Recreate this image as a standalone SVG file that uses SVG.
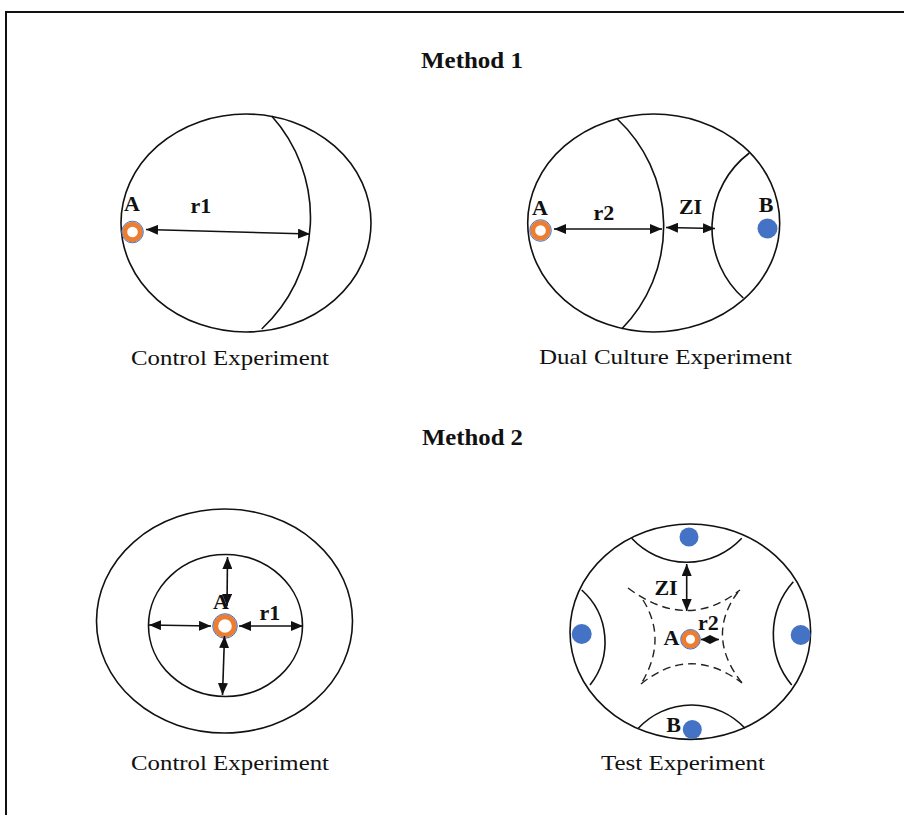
<svg xmlns="http://www.w3.org/2000/svg" width="904" height="815" viewBox="0 0 904 815">
<style>
.plate{fill:none;stroke:#111;stroke-width:1.6}
.arc{fill:none;stroke:#111;stroke-width:1.6}
.dash{fill:none;stroke:#222;stroke-width:1.4;stroke-dasharray:8 5}
.arrow{fill:none;stroke:#111;stroke-width:1.6;marker-start:url(#ah);marker-end:url(#ah)}
.arrowS{fill:none;stroke:#111;stroke-width:1.6;marker-start:url(#ahs);marker-end:url(#ahs)}
.lbl{font-family:"Liberation Serif","Times New Roman",serif;font-weight:bold;font-size:22px;fill:#111;text-anchor:middle}
.title{font-family:"Liberation Serif","Times New Roman",serif;font-weight:bold;font-size:24px;fill:#111}
.cap{font-family:"Liberation Serif","Times New Roman",serif;font-size:22px;fill:#111}
.ringO{fill:#fff;stroke:#ED7D31;stroke-width:5}
.ringB{fill:none;stroke:#4472C4;stroke-width:1}
.dot{fill:#4472C4}
</style>
<defs>
<marker id="ah" markerUnits="userSpaceOnUse" markerWidth="12" markerHeight="10" refX="12" refY="5" orient="auto-start-reverse"><path d="M0,0 L12,5 L0,10 z" fill="#111"/></marker>
<marker id="ahs" markerUnits="userSpaceOnUse" markerWidth="9" markerHeight="9" refX="9" refY="4.5" orient="auto-start-reverse"><path d="M0,0 L9,4.5 L0,9 z" fill="#111"/></marker>
</defs>
<rect width="904" height="815" fill="#fff"/>
<g id="frame"><path d="M6,815 L6,12 L904,12" fill="none" stroke="#111" stroke-width="2"/></g>

<text class="title" x="421" y="68" textLength="102" lengthAdjust="spacingAndGlyphs">Method 1</text>
<text class="title" x="422" y="445" textLength="101" lengthAdjust="spacingAndGlyphs">Method 2</text>

<g id="m1-control">
<ellipse class="plate" cx="246" cy="223" rx="125" ry="109"/>
<path class="arc" d="M271.7,116 A152,152 0 0 1 261.7,329"/>
<circle class="ringO" cx="132.5" cy="232" r="7.8"/>
<circle class="ringB" cx="132.5" cy="232" r="10.8"/>
<text class="lbl" x="132" y="211">A</text>
<text class="lbl" x="201" y="212.5">r1</text>
<text class="cap" x="131" y="365" textLength="198" lengthAdjust="spacingAndGlyphs">Control Experiment</text>
</g>

<g id="m1-dual">
<ellipse class="plate" cx="653.7" cy="223" rx="126" ry="109"/>
<path class="arc" d="M617.3,119 A147,147 0 0 1 621.7,329"/>
<path class="arc" d="M749.3,153 A94,94 0 0 0 743.3,298"/>
<circle class="ringO" cx="540.5" cy="230.5" r="7.8"/>
<circle class="ringB" cx="540.5" cy="230.5" r="10.8"/>
<circle class="dot" cx="767.5" cy="228.5" r="10"/>
<text class="lbl" x="540" y="215">A</text>
<text class="lbl" x="604" y="220">r2</text>
<text class="lbl" x="690.5" y="213.5">ZI</text>
<text class="lbl" x="766" y="211.5">B</text>
<text class="cap" x="539" y="364" textLength="253" lengthAdjust="spacingAndGlyphs">Dual Culture Experiment</text>
</g>

<g id="m2-control">
<ellipse class="plate" cx="224.5" cy="621" rx="128" ry="112"/>
<ellipse class="plate" cx="225.5" cy="625.5" rx="77" ry="71"/>
<text class="lbl" x="221" y="608.5">A</text>
<circle class="ringO" cx="225" cy="626" r="9.3"/>
<circle class="ringB" cx="225" cy="626" r="12.3"/>
<text class="lbl" x="270" y="620">r1</text>
<text class="cap" x="131" y="770" textLength="198" lengthAdjust="spacingAndGlyphs">Control Experiment</text>
</g>

<g id="m2-test">
<ellipse class="plate" cx="690.3" cy="631.7" rx="120.3" ry="107.7"/>
<path class="arc" d="M631.7,538.3 A75,75 0 0 0 741.7,538.3"/>
<path class="arc" d="M638.3,728.3 A72.7,72.7 0 0 1 745,728.3"/>
<path class="arc" d="M581.7,590 A69.4,69.4 0 0 1 590,685"/>
<path class="arc" d="M793.3,581.7 A79.2,79.2 0 0 0 791.7,685"/>
<path class="dash" d="M628,588 Q687,632 740,590"/>
<path class="dash" d="M643,600 Q668,640 641,684"/>
<path class="dash" d="M641,684 Q690,644 742,683"/>
<path class="dash" d="M738,592 Q705,636 742,683"/>
<circle class="dot" cx="689" cy="537" r="9.5"/>
<circle class="dot" cx="581.7" cy="634" r="10"/>
<circle class="dot" cx="800.7" cy="635" r="10"/>
<circle class="dot" cx="692.3" cy="729.5" r="9.5"/>
<circle class="ringO" cx="690.5" cy="639.3" r="7"/>
<circle class="ringB" cx="690.5" cy="639.3" r="9.8"/>
<text class="lbl" x="666" y="595">ZI</text>
<text class="lbl" x="708.5" y="630">r2</text>
<text class="lbl" x="671.5" y="645">A</text>
<text class="lbl" x="673.5" y="731.5">B</text>
<text class="cap" x="601" y="770" textLength="164" lengthAdjust="spacingAndGlyphs">Test Experiment</text>
</g>

<g id="connectors">
<line class="arrow" x1="146" y1="229.5" x2="310" y2="234"/>
<line class="arrow" x1="554" y1="229" x2="662" y2="229"/>
<line class="arrow" x1="666" y1="227.5" x2="715" y2="228.5"/>
<line class="arrow" x1="227" y1="606" x2="227.5" y2="557"/>
<line class="arrow" x1="224.5" y1="636" x2="222.5" y2="695"/>
<line class="arrow" x1="149" y1="625" x2="211" y2="626"/>
<line class="arrow" x1="239" y1="626" x2="303" y2="626"/>
<line class="arrow" x1="686.7" y1="564" x2="686.7" y2="611"/>
<line class="arrowS" x1="701" y1="639.5" x2="719" y2="639.5"/>
</g>
</svg>
